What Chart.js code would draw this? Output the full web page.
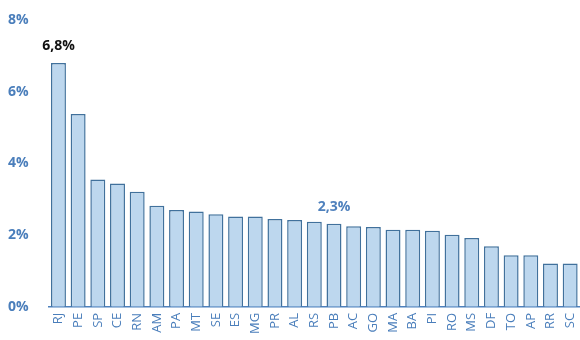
<!DOCTYPE html>
<html>
<head>
<meta charset="utf-8">
<script src="https://cdn.jsdelivr.net/npm/chart.js@4/dist/chart.umd.min.js"></script>
<style>
  html, body { margin: 0; padding: 0; background: #fff; }
  #wrap { width: 580px; height: 340px; }
</style>
</head>
<body>
<div id="wrap"><canvas id="chart" width="580" height="340"></canvas></div>
<script>
// States and their share (%)
const states = ['RJ', 'PE', 'SP', 'CE', 'RN', 'AM', 'PA', 'MT', 'SE', 'ES', 'MG', 'PR', 'AL', 'RS',
                'PB', 'AC', 'GO', 'MA', 'BA', 'PI', 'RO', 'MS', 'DF', 'TO', 'AP', 'RR', 'SC'];
const values = [6.8, 5.38, 3.55, 3.44, 3.21, 2.82, 2.70, 2.66, 2.58, 2.52, 2.52, 2.45, 2.42, 2.37,
                2.32, 2.25, 2.23, 2.15, 2.15, 2.12, 2.01, 1.92, 1.69, 1.44, 1.44, 1.21, 1.21];
const yTicks = [0, 2, 4, 6, 8];

// which bars get a value label, and its colour
const callouts = [
    { index: 0, text: '6,8%', color: '#111111', dy: 10 },
    { index: 14, text: '2,3%', color: '#4f81bd', dy: 10 }
];

const blue = '#4a7ebb';

const calloutPlugin = {
    id: 'callouts',
    afterDatasetsDraw(chart) {
        const c = chart.ctx;
        const meta = chart.getDatasetMeta(0);
        c.save();
        c.font = 'bold 14px "Open Sans", sans-serif';
        c.textAlign = 'center';
        c.textBaseline = 'bottom';
        callouts.forEach(o => {
            const bar = meta.data[o.index];
            c.fillStyle = o.color;
            c.fillText(o.text, bar.x, bar.y - o.dy);
        });
        c.restore();
    }
};

new Chart(document.getElementById('chart').getContext('2d'), {
    type: 'bar',
    data: {
        labels: states,
        datasets: [{
            data: values,
            backgroundColor: '#bdd7ee',
            borderColor: '#41719c',
            borderWidth: 1.5,
            barPercentage: 0.76,
            categoryPercentage: 1
        }]
    },
    options: {
        responsive: false,
        maintainAspectRatio: false,
        animation: false,
        layout: { padding: { top: 20, right: 0, left: 8, bottom: 0 } },
        plugins: {
            legend: { display: false },
            tooltip: { enabled: false }
        },
        scales: {
            y: {
                min: 0,
                max: 8,
                afterBuildTicks: axis => { axis.ticks = yTicks.map(v => ({ value: v })); },
                afterFit: axis => { axis.paddingTop = 0; },
                grid: { display: false, drawTicks: false },
                border: { display: false },
                ticks: {
                    color: blue,
                    padding: 10,
                    crossAlign: 'far',
                    font: { family: '"Open Sans", sans-serif', size: 14, weight: 'bold' },
                    callback: v => v + '%'
                }
            },
            x: {
                afterFit: axis => { axis.paddingRight = 0; },
                grid: { display: false, drawTicks: false },
                border: { display: true, color: '#4f81bd', width: 1.5 },
                ticks: {
                    color: blue,
                    padding: 6,
                    minRotation: 90,
                    maxRotation: 90,
                    autoSkip: false,
                    font: { family: '"Open Sans", sans-serif', size: 13 }
                }
            }
        }
    },
    plugins: [calloutPlugin]
});
</script>
</body>
</html>
